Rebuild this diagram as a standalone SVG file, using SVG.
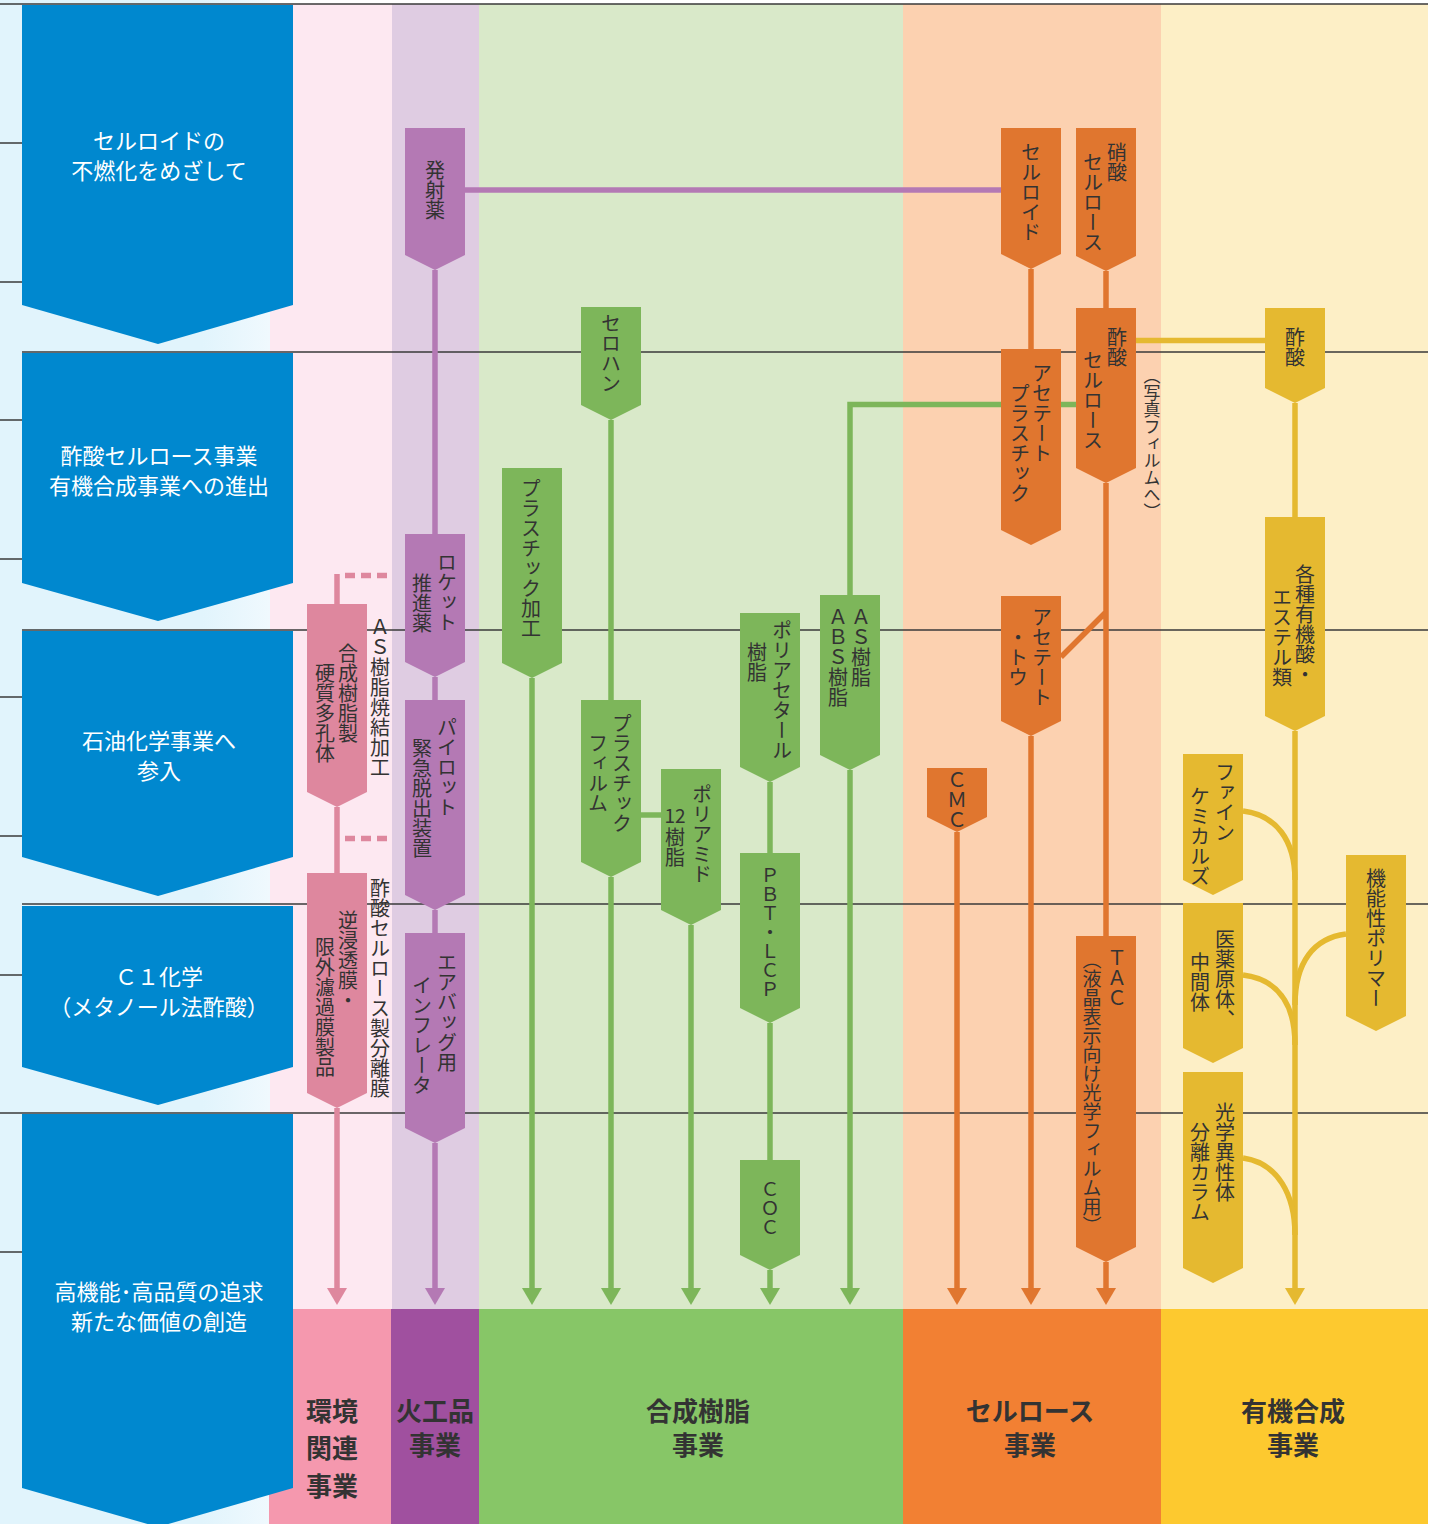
<svg xmlns="http://www.w3.org/2000/svg" width="1446" height="1524" viewBox="0 0 1446 1524">
<defs>
<style>
text{font-family:'Noto Sans CJK JP','Noto Sans',sans-serif;}
.v{writing-mode:vertical-rl;font-size:20px;fill:#333;}
.s19{font-size:19px;}
.s17{font-size:17px;}
.h{font-size:19px;fill:#333;text-anchor:middle;}
.bn{fill:#0088cf;}
.bt{font-size:22px;fill:#fff;text-anchor:middle;}
.lbl{font-size:26px;font-weight:bold;fill:#333;text-anchor:middle;}
.grid{stroke:#3a3a3a;stroke-width:1.5;fill:none;}
.np{fill:#de879e;}.nv{fill:#b479b4;}.ng{fill:#7db65a;}.no{fill:#e0762f;}.ny{fill:#e5b930;}
.c{fill:none;stroke-width:5.5;}
.cp{stroke:#de879e;}.cv{stroke:#b479b4;}.cg{stroke:#7db65a;}.co{stroke:#e0762f;}.cy{stroke:#e5b930;}
.dash{stroke-dasharray:10 6;}
</style>
<linearGradient id="lg" x1="0" y1="0" x2="1" y2="0">
<stop offset="0.75" stop-color="#e1f4fc"/><stop offset="1" stop-color="#f0f9fe"/>
</linearGradient>
<marker id="ap" viewBox="0 -10 17 20" markerWidth="17" markerHeight="20" refX="4" refY="0" orient="auto" markerUnits="userSpaceOnUse"><path d="M0,-10L17,0L0,10Z" fill="#de879e"/></marker>
<marker id="av" viewBox="0 -10 17 20" markerWidth="17" markerHeight="20" refX="4" refY="0" orient="auto" markerUnits="userSpaceOnUse"><path d="M0,-10L17,0L0,10Z" fill="#b479b4"/></marker>
<marker id="ag" viewBox="0 -10 17 20" markerWidth="17" markerHeight="20" refX="4" refY="0" orient="auto" markerUnits="userSpaceOnUse"><path d="M0,-10L17,0L0,10Z" fill="#7db65a"/></marker>
<marker id="ao" viewBox="0 -10 17 20" markerWidth="17" markerHeight="20" refX="4" refY="0" orient="auto" markerUnits="userSpaceOnUse"><path d="M0,-10L17,0L0,10Z" fill="#e0762f"/></marker>
<marker id="ay" viewBox="0 -10 17 20" markerWidth="17" markerHeight="20" refX="4" refY="0" orient="auto" markerUnits="userSpaceOnUse"><path d="M0,-10L17,0L0,10Z" fill="#e5b930"/></marker>
</defs>

<g id="background">
<rect x="0" y="0" width="1446" height="1524" fill="#fff"/>
<rect x="0" y="0" width="270" height="1524" fill="url(#lg)"/>
<rect x="270" y="4" width="122" height="1306" fill="#fde8f1"/>
<rect x="392" y="4" width="87" height="1306" fill="#dfcce2"/>
<rect x="479" y="4" width="424" height="1306" fill="#d9e9c9"/>
<rect x="903" y="4" width="258" height="1306" fill="#fcd1b0"/>
<rect x="1161" y="4" width="267" height="1306" fill="#fdefc6"/>
</g>

<g id="divisions">
<g id="d-env"><rect x="269" y="1309" width="122" height="215" fill="#f598ae"/><text class="lbl" x="332" y="1421">環境</text><text class="lbl" x="332" y="1458">関連</text><text class="lbl" x="332" y="1496">事業</text></g>
<g id="d-explosive"><rect x="391" y="1309" width="88" height="215" fill="#a0509f"/><text class="lbl" x="435" y="1421">火工品</text><text class="lbl" x="435" y="1455">事業</text></g>
<g id="d-resin"><rect x="479" y="1309" width="424" height="215" fill="#87c667"/><text class="lbl" x="698" y="1421">合成樹脂</text><text class="lbl" x="698" y="1455">事業</text></g>
<g id="d-cellulose"><rect x="903" y="1309" width="258" height="215" fill="#f28033"/><text class="lbl" x="1030" y="1421">セルロース</text><text class="lbl" x="1030" y="1455">事業</text></g>
<g id="d-organic"><rect x="1161" y="1309" width="267" height="215" fill="#fdc92f"/><text class="lbl" x="1293" y="1421">有機合成</text><text class="lbl" x="1293" y="1455">事業</text></g>
</g>

<g id="grid">
<path class="grid" d="M0,4H1428M22,352H1428M22,630H1428M22,904H1428M0,1113H1428"/>
<path class="grid" d="M0,143H22M0,282H22M0,420H22M0,559H22M0,697H22M0,836H22M0,975H22M0,1252H22"/>
</g>

<g id="eras">
<g id="era1"><path class="bn" d="M22,5H293V305L158,344L22,305Z"/><text class="bt" x="159" y="149">セルロイドの</text><text class="bt" x="159" y="179">不燃化をめざして</text></g>
<g id="era2"><path class="bn" d="M22,353H293V583L158,621L22,583Z"/><text class="bt" x="159" y="464">酢酸セルロース事業</text><text class="bt" x="159" y="494">有機合成事業への進出</text></g>
<g id="era3"><path class="bn" d="M22,631H293V857L158,896L22,857Z"/><text class="bt" x="159" y="749">石油化学事業へ</text><text class="bt" x="159" y="779">参入</text></g>
<g id="era4"><path class="bn" d="M22,906H293V1067L158,1105L22,1067Z"/><text class="bt" x="159" y="985">Ｃ１化学</text><text class="bt" x="159" y="1015">（メタノール法酢酸）</text></g>
<g id="era5"><path class="bn" d="M22,1114H293V1488L158,1527L22,1488Z"/><text class="bt" x="159" y="1300">高機能･高品質の追求</text><text class="bt" x="159" y="1330">新たな価値の創造</text></g>
</g>

<g id="connectors">
<path class="c cp" d="M337,574V604"/>
<path class="c cp dash" d="M345,575.5H387"/>
<path class="c cp" d="M337,807V873"/>
<path class="c cp dash" d="M345,838.5H387"/>
<path class="c cp" d="M337,1108V1292" marker-end="url(#ap)"/>
<path class="c cv" d="M435,270V534M435,677V700M435,910V933"/>
<path class="c cv" d="M435,1143V1292" marker-end="url(#av)"/>
<path class="c cv" d="M465,190H1001"/>
<path class="c cg" d="M611,420V700"/>
<path class="c cg" d="M611,877V1292" marker-end="url(#ag)"/>
<path class="c cg" d="M532,678V1292" marker-end="url(#ag)"/>
<path class="c cg" d="M641,815H661"/>
<path class="c cg" d="M691,925V1292" marker-end="url(#ag)"/>
<path class="c cg" d="M770,782V853M770,1023V1160"/>
<path class="c cg" d="M770,1270V1292" marker-end="url(#ag)"/>
<path class="c cg" d="M850,770V1292" marker-end="url(#ag)"/>
<path class="c cg" d="M850,595V404.5H1076"/>
<path class="c co" d="M1031,269V349M1106,271V308M1106,483V936M1106,612L1061,657"/>
<path class="c co" d="M1106,1262V1292" marker-end="url(#ao)"/>
<path class="c co" d="M1031,736V1292" marker-end="url(#ao)"/>
<path class="c co" d="M957,832V1292" marker-end="url(#ao)"/>
<path class="c cy" d="M1135,340.5H1265M1295,403V517"/>
<path class="c cy" d="M1295,731V1292" marker-end="url(#ay)"/>
<path class="c cy" d="M1243,811C1276,815 1295,840 1295,880M1243,975C1276,979 1295,1002 1295,1045M1346,934C1314,938 1295,962 1295,1005M1243,1158C1278,1163 1295,1195 1295,1235"/>
</g>

<g id="side-labels">
<text class="v" x="380" y="617">ＡＳ樹脂焼結加工</text>
<text class="v" x="380" y="878">酢酸セルロース製分離膜</text>
<text class="v s17" x="1152" y="367">（写真フィルムへ）</text>
</g>

<g id="n-hassyayaku"><path class="nv" d="M405,128H465V255L435,270L405,255Z"/><text class="v" x="435" y="160">発射薬</text></g>
<g id="n-rocket"><path class="nv" d="M405,534H465V662L435,677L405,662Z"/><text class="v" x="447" y="552">ロケット</text><text class="v" x="422" y="573">推進薬</text></g>
<g id="n-pilot"><path class="nv" d="M405,700H465V895L435,910L405,895Z"/><text class="v" x="447" y="717">パイロット</text><text class="v" x="422" y="738">緊急脱出装置</text></g>
<g id="n-airbag"><path class="nv" d="M405,933H465V1128L435,1143L405,1128Z"/><text class="v" x="447" y="952">エアバッグ用</text><text class="v" x="422" y="975">インフレータ</text></g>

<g id="n-porous"><path class="np" d="M307,604H367V792L337,807L307,792Z"/><text class="v" x="348" y="643">合成樹脂製</text><text class="v" x="325" y="663">硬質多孔体</text></g>
<g id="n-membrane"><path class="np" d="M307,873H367V1093L337,1108L307,1093Z"/><text class="v" x="348" y="910">逆浸透膜・</text><text class="v" x="325" y="937">限外濾過膜製品</text></g>

<g id="n-cellophane"><path class="ng" d="M581,307H641V405L611,420L581,405Z"/><text class="v" x="611" y="313">セロハン</text></g>
<g id="n-plastic-proc"><path class="ng" d="M502,468H562V663L532,678L502,663Z"/><text class="v" x="531" y="478">プラスチック加工</text></g>
<g id="n-plastic-film"><path class="ng" d="M581,700H641V862L611,877L581,862Z"/><text class="v" x="622" y="713">プラスチック</text><text class="v" x="598" y="733">フィルム</text></g>
<g id="n-pa12"><path class="ng" d="M661,769H721V910L691,925L661,910Z"/><text class="v" x="702" y="784">ポリアミド</text><text class="h" x="675" y="823">12</text><text class="v" x="675" y="827">樹脂</text></g>
<g id="n-pom"><path class="ng" d="M740,613H800V767L770,782L740,767Z"/><text class="v" x="782" y="620">ポリアセタール</text><text class="v" x="757" y="642">樹脂</text></g>
<g id="n-pbt"><path class="ng" d="M740,853H800V1008L770,1023L740,1008Z"/><text class="v s19" x="770" y="866">ＰＢＴ・ＬＣＰ</text></g>
<g id="n-coc"><path class="ng" d="M740,1160H800V1255L770,1270L740,1255Z"/><text class="v s19" x="770" y="1180">ＣＯＣ</text></g>
<g id="n-as"><path class="ng" d="M820,595H880V755L850,770L820,755Z"/><text class="v" x="861" y="607">ＡＳ樹脂</text><text class="v" x="838" y="607">ＡＢＳ樹脂</text></g>

<g id="n-celluloid"><path class="no" d="M1001,128H1061V254L1031,269L1001,254Z"/><text class="v" x="1031" y="142">セルロイド</text></g>
<g id="n-nitrocellulose"><path class="no" d="M1076,128H1136V256L1106,271L1076,256Z"/><text class="v" x="1117" y="142">硝酸</text><text class="v" x="1093" y="152">セルロース</text></g>
<g id="n-acetylcellulose"><path class="no" d="M1076,308H1136V468L1106,483L1076,468Z"/><text class="v" x="1117" y="327">酢酸</text><text class="v" x="1093" y="350">セルロース</text></g>
<g id="n-acetate-plastic"><path class="no" d="M1001,349H1061V530L1031,545L1001,530Z"/><text class="v" x="1042" y="363">アセテート</text><text class="v" x="1020" y="383">プラスチック</text></g>
<g id="n-acetate-tow"><path class="no" d="M1001,596H1061V721L1031,736L1001,721Z"/><text class="v" x="1042" y="607">アセテート</text><text class="v" x="1018" y="627">・トウ</text></g>
<g id="n-cmc"><path class="no" d="M927,768H987V817L957,832L927,817Z"/><text class="v" x="957" y="770">ＣＭＣ</text></g>
<g id="n-tac"><path class="no" d="M1076,936H1136V1247L1106,1262L1076,1247Z"/><text class="v" x="1117" y="948">ＴＡＣ</text><text class="v s19" x="1092" y="950">（液晶表示向け光学フィルム用）</text></g>

<g id="n-aceticacid"><path class="ny" d="M1265,308H1325V388L1295,403L1265,388Z"/><text class="v" x="1295" y="327">酢酸</text></g>
<g id="n-esters"><path class="ny" d="M1265,517H1325V716L1295,731L1265,716Z"/><text class="v" x="1305" y="564">各種有機酸・</text><text class="v" x="1282" y="587">エステル類</text></g>
<g id="n-fine"><path class="ny" d="M1183,754H1243V880L1213,895L1183,880Z"/><text class="v" x="1225" y="762">ファイン</text><text class="v" x="1200" y="786">ケミカルズ</text></g>
<g id="n-pharma"><path class="ny" d="M1183,903H1243V1048L1213,1063L1183,1048Z"/><text class="v" x="1225" y="929">医薬原体、</text><text class="v" x="1200" y="952">中間体</text></g>
<g id="n-polymer"><path class="ny" d="M1346,855H1406V1016L1376,1031L1346,1016Z"/><text class="v" x="1376" y="868">機能性ポリマー</text></g>
<g id="n-chiral"><path class="ny" d="M1183,1072H1243V1268L1213,1283L1183,1268Z"/><text class="v" x="1225" y="1102">光学異性体</text><text class="v" x="1200" y="1122">分離カラム</text></g>
</svg>
